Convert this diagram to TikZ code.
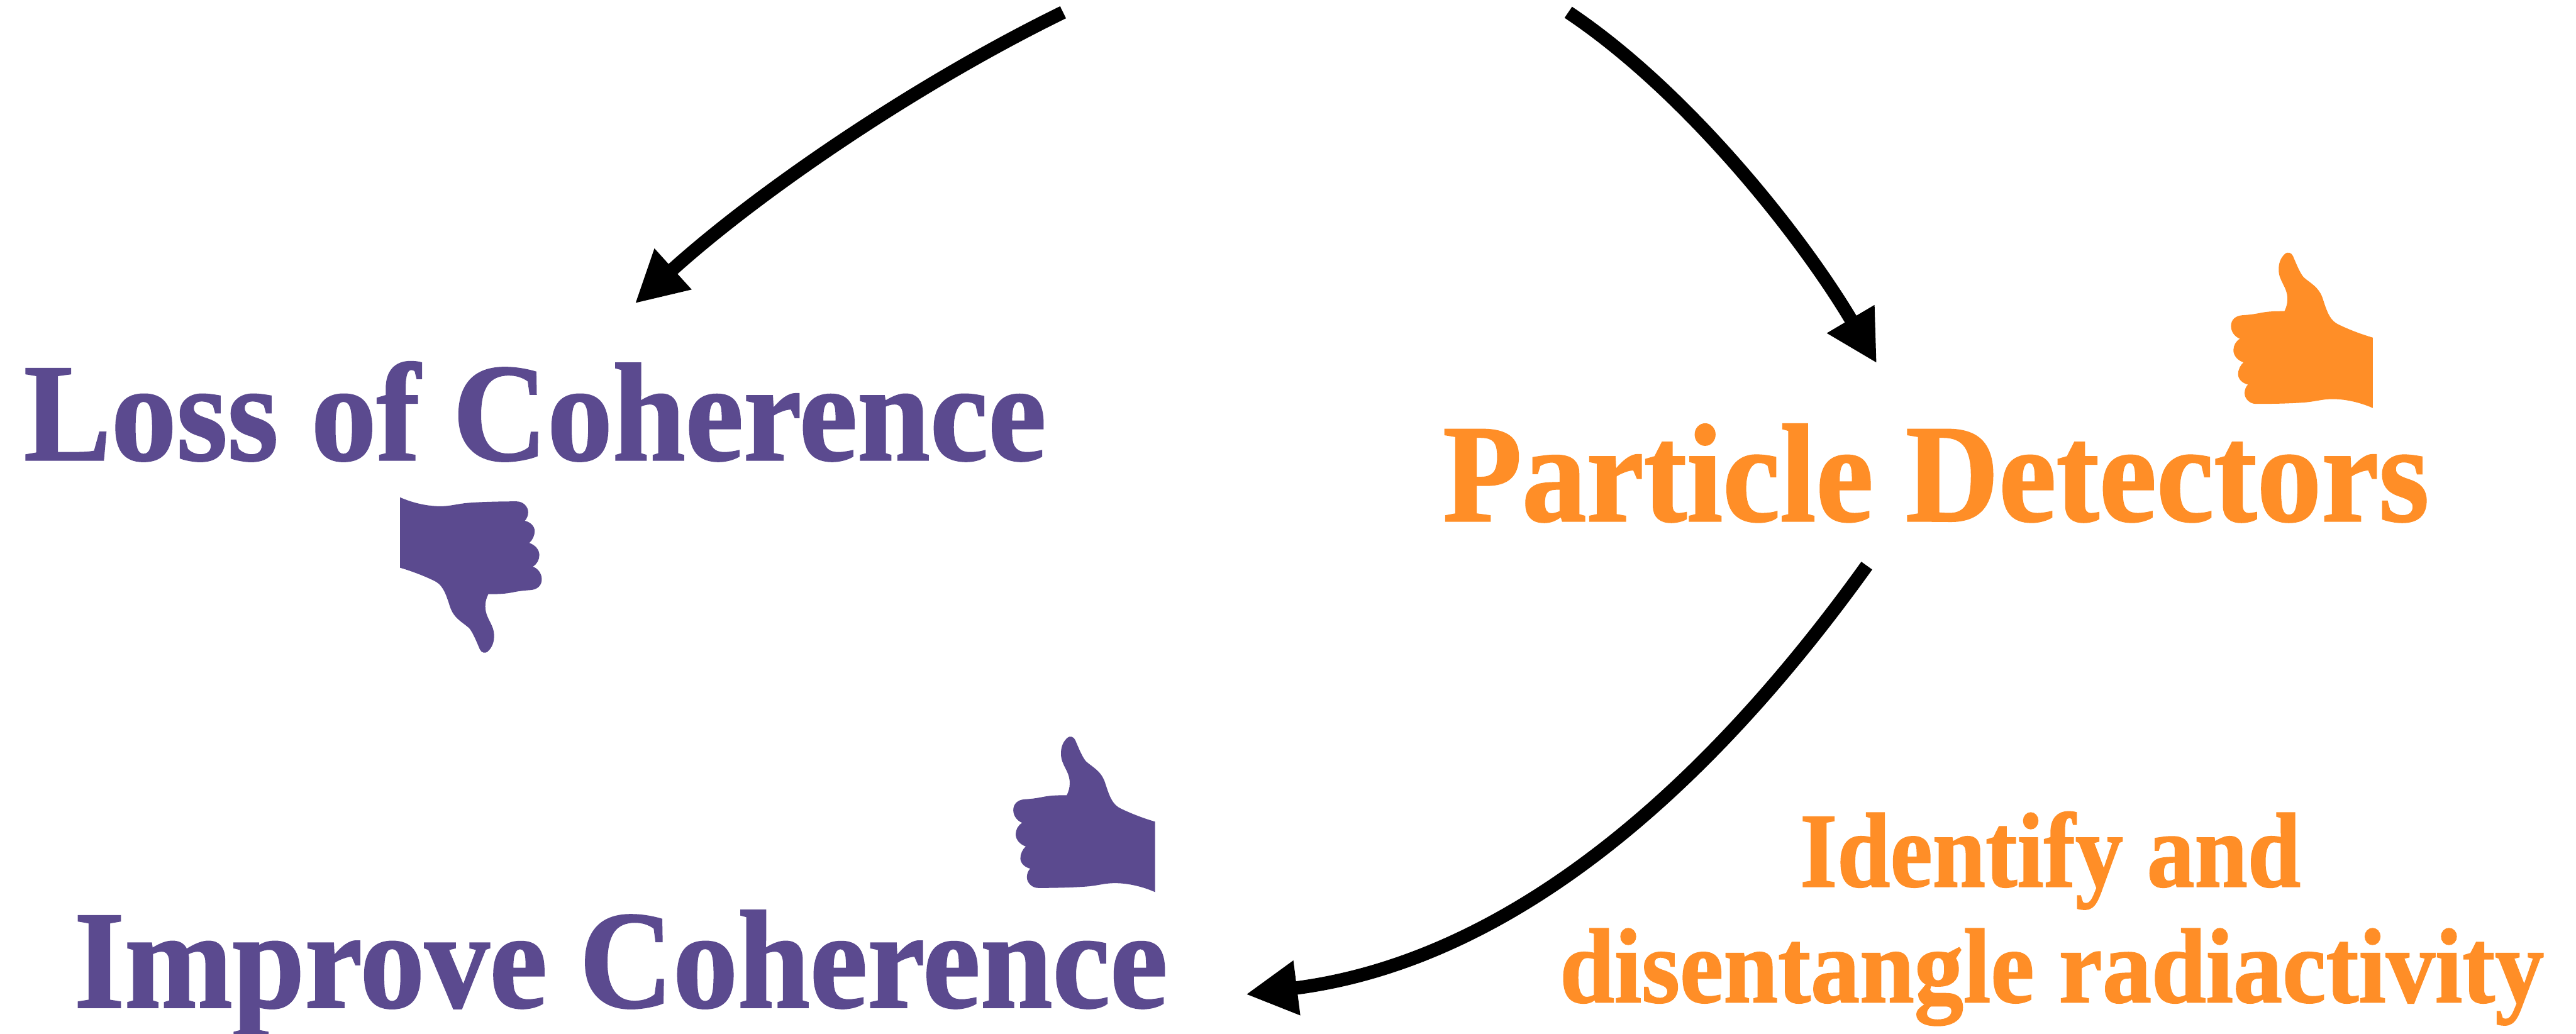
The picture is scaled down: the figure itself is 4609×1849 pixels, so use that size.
\documentclass[tikz,border=0pt]{standalone}
\usepackage{fontspec}
\usepackage{graphicx}
\setmainfont[BoldFeatures={FakeBold=1.2}]{Liberation Serif}
\usetikzlibrary{arrows.meta}
\definecolor{cohpurple}{HTML}{5B4A8F}
\definecolor{detorange}{HTML}{FF8E27}
\newcommand{\fitw}[2]{\resizebox{#1 cm}{\height}{#2}}
\tikzset{
  big/.style={anchor=base west,inner sep=0pt,font=\fontsize{71}{71}\selectfont\bfseries},
  small/.style={anchor=base west,inner sep=0pt,font=\fontsize{54}{54}\selectfont\bfseries},
  flow/.style={line width=0.24cm,black,-{Triangle[length=0.92cm,width=0.92cm]}},
  pics/thumbhand/.style={code={
    \fill[#1] (1036,552) .. controls (960,530) and (880,497) .. (840,475)
      .. controls (800,450) and (785,395) .. (770,350)
      .. controls (750,280) and (700,260) .. (665,228)
      .. controls (645,205) and (625,155) .. (608,115)
      .. controls (600,95) and (578,90) .. (565,102)
      .. controls (540,125) and (530,155) .. (531,190)
      .. controls (532,250) and (578,280) .. (578,345)
      .. controls (578,370) and (572,390) .. (562,410)
      .. controls (500,410) and (470,412) .. (430,420)
      .. controls (390,428) and (365,430) .. (335,432)
      .. controls (300,435) and (275,455) .. (275,490)
      .. controls (275,525) and (300,550) .. (323,558)
      .. controls (300,572) and (288,595) .. (288,620)
      .. controls (288,650) and (312,675) .. (342,685)
      .. controls (325,700) and (313,725) .. (313,748)
      .. controls (313,778) and (340,798) .. (366,804)
      .. controls (355,815) and (348,832) .. (348,850)
      .. controls (348,880) and (375,908) .. (410,908)
      .. controls (500,908) and (630,905) .. (690,898)
      .. controls (740,892) and (770,882) .. (820,882)
      .. controls (900,882) and (980,905) .. (1036,930) -- cycle;
  }}
}
\begin{document}
\begin{tikzpicture}[x=0.01cm,y=-0.01cm]
\useasboundingbox (0,0) rectangle (4609,1849);
\clip (0,0) rectangle (4609,1849);
% labels
\node[big,text=cohpurple] (loss) at (42,823) {\fitw{18.28}{Loss of Coherence}};
\node[big,text=detorange] (part) at (2581,932) {\fitw{17.63}{Particle Detectors}};
\node[big,text=cohpurple] (impr) at (132,1802) {\fitw{19.55}{Improve Coherence}};
\node[small,text=detorange] (iden) at (3220,1586) {\fitw{8.95}{Identify and}};
\node[small,text=detorange] (dise) at (2790,1793) {\fitw{17.6}{disentangle radiactivity}};
% thumbs
\pic[shift={(3900,420)},scale=1/3] {thumbhand=detorange};
\pic[shift={(1721.3,1286)},scale=1/3] {thumbhand=cohpurple};
\pic[shift={(1061,1199.7)},rotate=180,scale=1/3] {thumbhand=cohpurple};
% connectors
\coordinate (s1) at (1902,22);
\coordinate (e1) at (1136,543);
\coordinate (s2) at (2806,22);
\coordinate (e2) at (3358,650);
\coordinate (s3) at (3340,1012);
\coordinate (e3) at (2229,1779);
\draw[flow] (s1) .. controls (1640,150) and (1358,342) .. (e1);
\draw[flow] (s2) .. controls (3020,165) and (3225,425) .. (e2);
\draw[flow] (s3) .. controls (3089,1362) and (2735,1715) .. (e3);
\end{tikzpicture}
\end{document}
